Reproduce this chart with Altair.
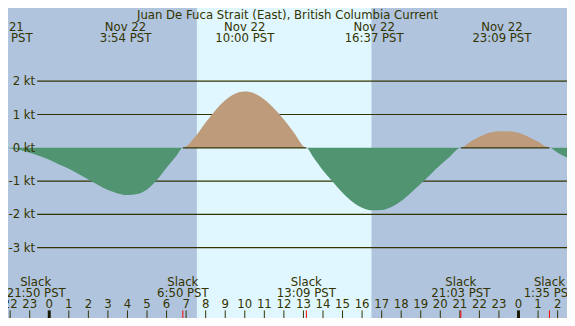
import altair as alt
import pandas as pd

# ---------------- data ----------------
title_text = "Juan De Fuca Strait (East), British Columbia Current"

# current curve: hours since Nov 22 00:00 PST, knots (+ flood / - ebb)
curve_hours = [-2.167, -1.5, -1.0, -0.5, 0.0, 0.5, 1.0, 1.5, 2.0, 2.5, 3.0, 3.5, 4.0, 4.5, 5.0, 5.5, 6.0, 6.5, 6.833,
               7.5, 8.0, 8.5, 9.0, 9.5, 10.0, 10.5, 11.0, 11.5, 12.0, 12.5, 13.15,
               13.5, 14.0, 14.5, 15.0, 15.5, 16.0, 16.5, 17.0, 17.5, 18.0, 18.5, 19.0, 19.5, 20.0, 20.5, 21.05,
               21.5, 22.0, 22.5, 23.0, 23.5, 24.0, 24.5, 25.0, 25.583,
               26.0, 26.6]
curve_knots = [0.0, -0.07, -0.15, -0.25, -0.36, -0.50, -0.63, -0.79, -0.95, -1.12, -1.27, -1.37, -1.42, -1.39, -1.25, -0.97, -0.60, -0.25, 0.0,
               0.36, 0.76, 1.13, 1.43, 1.62, 1.69, 1.63, 1.45, 1.18, 0.85, 0.47, 0.0,
               -0.28, -0.68, -1.02, -1.35, -1.62, -1.80, -1.88, -1.87, -1.78, -1.60, -1.35, -1.08, -0.80, -0.52, -0.26, 0.0,
               0.17, 0.33, 0.45, 0.50, 0.50, 0.45, 0.33, 0.18, 0.0,
               -0.15, -0.32]

# slack events (hours since Nov 22 00:00) and their labels
slack_hours = [-2.167, 6.833, 13.15, 21.05, 25.583]
slack_labels = ["21:50 PST", "6:50 PST", "13:09 PST", "21:03 PST", "1:35 PST"]

# maximum current events (top labels)
max_hours = [-2.36, 3.9, 10.0, 16.617, 23.15]
max_dates = ["Nov 21", "Nov 22", "Nov 22", "Nov 22", "Nov 22"]
max_labels = ["21:38 PST", "3:54 PST", "10:00 PST", "16:37 PST", "23:09 PST"]

# daylight
sunrise_hour = 7.55
sunset_hour = 16.48

# axis levels
knot_levels = [2, 1, 0, -1, -2, -3]
grid_levels = [2, 1, -1, -2, -3]
hour_ticks = list(range(-2, 27))

# ---------------- layout ----------------
W, H = 559, 310
REF_W, REF_H = 575, 326


def px(v):
    return v * W / REF_W


def py(v):
    return v * H / REF_H


NIGHT = "#B0C4DE"
DAY = "#E0F7FF"
FLOOD = "#BE9B7B"
EBB = "#519471"
INK = "#333300"
FONT = "DejaVu Sans"
FS = 11.7

xs = alt.Scale(domain=[-2.11, 26.48], nice=False, zero=False)
ys = alt.Scale(domain=[-5.114, 4.2], nice=False, zero=False)

curve = pd.DataFrame({"h": curve_hours, "kt": curve_knots})
curve["up"] = curve["kt"].clip(lower=0)
curve["down"] = curve["kt"].clip(upper=0)
curve["zero"] = 0.0
slack = pd.DataFrame({"h": slack_hours, "label": slack_labels, "word": ["Slack"] * len(slack_hours)})
maxima = pd.DataFrame({"h": max_hours, "date": max_dates, "label": max_labels})
levels = pd.DataFrame({"kt": knot_levels, "label": [f"{k} kt" for k in knot_levels]})
grid = pd.DataFrame({"kt": grid_levels})
hours = pd.DataFrame({"h": hour_ticks, "label": [str(h % 24) for h in hour_ticks],
                      "mid": [1 if h % 24 == 0 else 0 for h in hour_ticks]})
daylight = pd.DataFrame({"start": [sunrise_hour], "end": [sunset_hour]})
flood_spans = pd.DataFrame({"start": [slack_hours[1], slack_hours[3]],
                            "end": [slack_hours[2], slack_hours[4]], "zero": [0.0, 0.0]})
title_df = pd.DataFrame({"t": [title_text]})


def X(f):
    return alt.X(f, scale=xs, axis=None)


def Y(f):
    return alt.Y(f, scale=ys, axis=None)


txt = dict(baseline="alphabetic", font=FONT, fontSize=FS, color=INK)

day_rect = alt.Chart(daylight).mark_rect(color=DAY, clip=True).encode(
    x=X("start:Q"), x2="end:Q", y=alt.value(0), y2=alt.value(H))

grid_rules = alt.Chart(grid).mark_rule(color=INK, strokeWidth=1.2).encode(
    y=Y("kt:Q"), x=alt.value(px(30)), x2=alt.value(W))

ebb_area = alt.Chart(curve).mark_area(color=EBB, interpolate="monotone", clip=True).encode(
    x=X("h:Q"), y=Y("down:Q"), y2="zero:Q")

flood_area = alt.Chart(curve).mark_area(color=FLOOD, interpolate="monotone", clip=True).encode(
    x=X("h:Q"), y=Y("up:Q"), y2="zero:Q")

zero_rules = alt.Chart(flood_spans).mark_rule(color=INK, strokeWidth=1.2, clip=True).encode(
    x=X("start:Q"), x2="end:Q", y=Y("zero:Q"))

level_text = alt.Chart(levels).mark_text(align="right", baseline="middle", font=FONT,
                                         fontSize=FS, color=INK).encode(
    y=Y("kt:Q"), x=alt.value(px(28)), text="label:N")

title = alt.Chart(title_df).mark_text(align="center", **txt).encode(
    x=alt.value(W / 2), y=alt.value(py(12)), text="t:N")

top_date = alt.Chart(maxima).mark_text(align="center", **txt).encode(
    x=X("h:Q"), y=alt.value(py(24)), text="date:N")
top_time = alt.Chart(maxima).mark_text(align="center", **txt).encode(
    x=X("h:Q"), y=alt.value(py(36)), text="label:N")

slack_rest = slack.iloc[1:]
slack_first = slack.iloc[:1]
slack_word = alt.Chart(slack_rest).mark_text(align="center", **txt).encode(
    x=X("h:Q"), y=alt.value(py(292.5)), text="word:N")
slack_time = alt.Chart(slack_rest).mark_text(align="center", **txt).encode(
    x=X("h:Q"), y=alt.value(py(303.5)), text="label:N")
# first slack label is pushed inside the left edge
slack_word0 = alt.Chart(slack_first).mark_text(align="center", **txt).encode(
    x=alt.value(px(28.5)), y=alt.value(py(292.5)), text="word:N")
slack_time0 = alt.Chart(slack_first).mark_text(align="center", **txt).encode(
    x=alt.value(px(29)), y=alt.value(py(303.5)), text="label:N")

hour_text = alt.Chart(hours).mark_text(align="center", **txt).encode(
    x=X("h:Q"), y=alt.value(py(316)), text="label:N")

hour_ticks_m = alt.Chart(hours).transform_filter("datum.mid == 0").mark_rule(
    color=INK, strokeWidth=1).encode(
    x=X("h:Q"), y=alt.value(py(318)), y2=alt.value(H))
midnight_ticks = alt.Chart(hours).transform_filter("datum.mid == 1").mark_rule(
    color="#1a1a00", strokeWidth=3).encode(
    x=X("h:Q"), y=alt.value(py(318)), y2=alt.value(H))
slack_ticks = alt.Chart(slack).mark_rule(color="#FF0000", strokeWidth=1, clip=True).encode(
    x=X("h:Q"), y=alt.value(py(318)), y2=alt.value(H))

chart = alt.layer(
    day_rect, grid_rules, ebb_area, flood_area, zero_rules,
    level_text, title, top_date, top_time,
    slack_word, slack_time, slack_word0, slack_time0,
    hour_text, hour_ticks_m, midnight_ticks, slack_ticks,
).properties(
    width=W, height=H, background=NIGHT, padding=0, autosize="none"
).configure_view(strokeWidth=0)

chart.save("out.html", embed_options={"renderer": "svg", "actions": False})
